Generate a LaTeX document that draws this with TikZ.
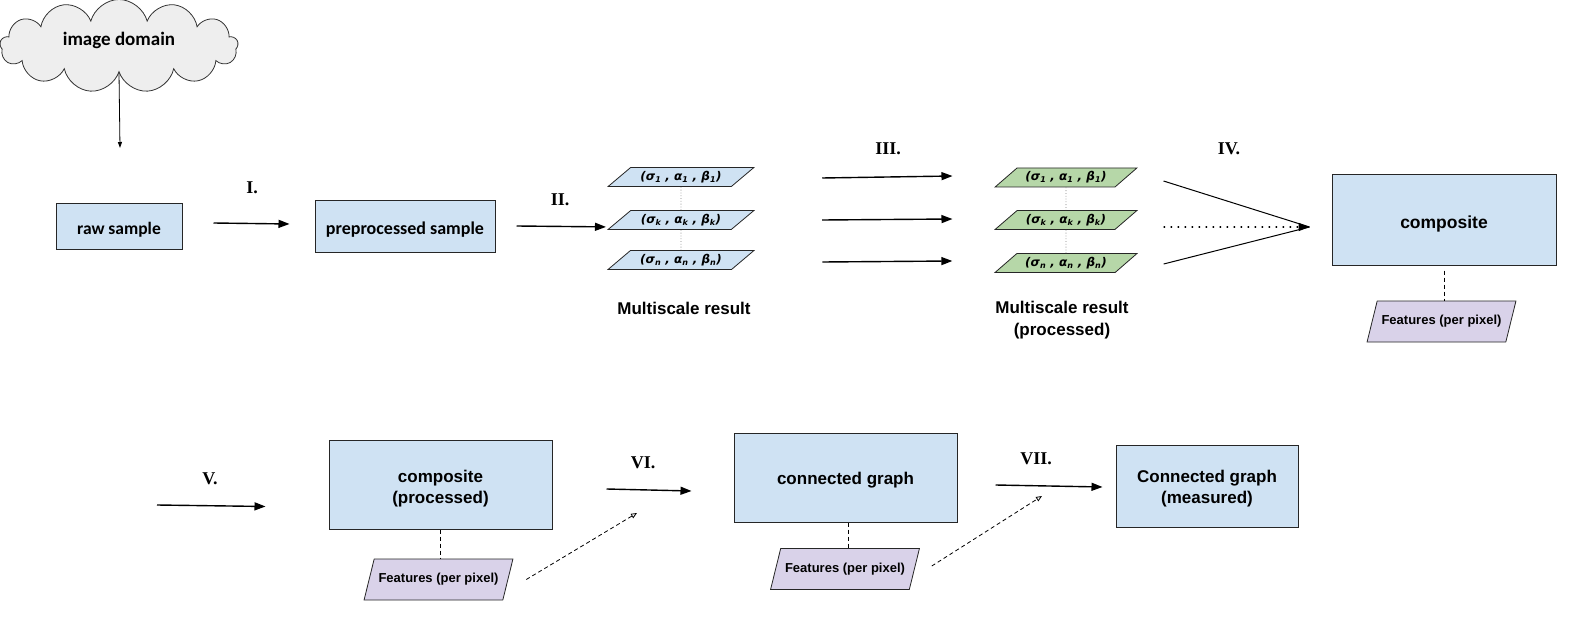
\documentclass[tikz,border=0pt]{standalone}
\usepackage{fontspec}
\setmainfont{Liberation Sans}
\newfontfamily\calibrifont{Carlito}
\newfontfamily\timesfont{Liberation Serif}
\newfontfamily\greekfont{DejaVu Sans}
\usetikzlibrary{shapes.geometric,shapes.symbols,arrows.meta}
\definecolor{boxblue}{HTML}{CFE2F3}
\definecolor{boxgreen}{HTML}{B6D7A8}
\definecolor{boxlilac}{HTML}{D9D2E9}
\definecolor{cloudgray}{HTML}{EEEEEE}
\newcommand{\scaletriple}[1]{{\greekfont\bfseries\itshape
  (σ\textsubscript{#1} , α\textsubscript{#1} , β\textsubscript{#1})}}
\newcommand{\shiftedtext}[2]{\raisebox{#1}[\height][\depth]{%
  \begin{tabular}{@{}c@{}}#2\end{tabular}}}

\begin{document}
\begin{tikzpicture}[
  x=1pt, y=-1pt,
  box/.style={
    rectangle, draw=black!85, fill=boxblue, line width=1pt,
    align=center, inner sep=0pt
  },
  calbox/.style={box, font=\calibrifont\bfseries\fontsize{18}{21}\selectfont},
  arialbox/.style={box, font=\bfseries\fontsize{17}{21}\selectfont},
  scalebox/.style={
    trapezium, trapezium left angle=33, trapezium right angle=147,
    trapezium stretches=true, draw=black!85, line width=0.8pt,
    minimum width=146pt, minimum height=19pt, inner sep=0pt,
    font=\fontsize{12}{14}\selectfont
  },
  feature/.style={
    trapezium, trapezium left angle=53, trapezium right angle=127,
    trapezium stretches=true, draw=black!85, fill=boxlilac, line width=0.8pt,
    minimum width=149pt, minimum height=41pt, inner xsep=-2pt, inner ysep=0pt,
    font=\bfseries\fontsize{13}{15}\selectfont
  },
  step label/.style={font=\timesfont\bfseries\fontsize{18}{20}\selectfont},
  caption/.style={font=\bfseries\fontsize{17}{22}\selectfont, align=center},
  arrow/.style={-{Triangle[length=11pt,width=8pt]}, line width=1.4pt},
  link/.style={dashed, dash pattern=on 4pt off 3pt, line width=0.8pt},
  hint/.style={dashed, dash pattern=on 4pt off 3pt, line width=0.8pt,
    -{Triangle[open,length=6pt,width=5pt]}}
]
\useasboundingbox (0,0) rectangle (1569,631);

% Input
\node[cloud, cloud puffs=13, aspect=2.6, draw=black!80, fill=cloudgray,
  line width=0.8pt, minimum width=238pt, minimum height=93pt, inner sep=0pt,
  font=\calibrifont\bfseries\fontsize{19}{22}\selectfont] (domain) at (119,46)
  {\shiftedtext{5pt}{image domain}};
\coordinate (domainend) at (120,148);
\node[calbox, minimum width=126pt, minimum height=46pt,
  font=\calibrifont\bfseries\fontsize{17.5}{21}\selectfont] (raw) at (119,227)
  {\shiftedtext{-3pt}{raw sample}};
\node[calbox, minimum width=180pt, minimum height=52pt] (prep) at (405,227)
  {\shiftedtext{-3pt}{preprocessed sample}};

% Multiscale (raw)
\node[scalebox, fill=boxblue] (b1) at (681,177) {\scaletriple{1}};
\node[scalebox, fill=boxblue] (bk) at (681,220) {\scaletriple{k}};
\node[scalebox, fill=boxblue] (bn) at (681,260) {\scaletriple{n}};
\node[caption] (mres) at (684,308) {Multiscale result};

% Multiscale (processed)
\node[scalebox, fill=boxgreen, minimum width=142pt] (g1) at (1066,177.5) {\scaletriple{1}};
\node[scalebox, fill=boxgreen, minimum width=142pt] (gk) at (1066,220) {\scaletriple{k}};
\node[scalebox, fill=boxgreen, minimum width=142pt] (gn) at (1066,263) {\scaletriple{n}};
\node[caption] (mproc) at (1062,320) {Multiscale result\\(processed)};

% Composite
\node[arialbox, minimum width=224pt, minimum height=90pt,
  font=\bfseries\fontsize{17.5}{21}\selectfont] (comp) at (1444,220)
  {\shiftedtext{-4pt}{composite}};
\node[feature] (feat1) at (1441.5,321.5) {Features (per pixel)};

% Second row
\node[arialbox, minimum width=223pt, minimum height=89pt] (cproc) at (440.5,484.5)
  {\shiftedtext{-4pt}{composite\\(processed)}};
\node[feature] (feat2) at (438.5,579.5) {Features (per pixel)};
\node[arialbox, minimum width=223pt, minimum height=89pt] (graph) at (845.5,477.5)
  {\shiftedtext{-3pt}{connected graph}};
\node[feature] (feat3) at (845,569) {Features (per pixel)};
\node[arialbox, minimum width=182pt, minimum height=82pt] (meas) at (1207,486)
  {\shiftedtext{-3pt}{Connected graph\\(measured)}};

% Step labels
\node[step label] at (252,188) {I.};
\node[step label] at (560,200) {II.};
\node[step label] at (888,149) {III.};
\node[step label] at (1229,149) {IV.};
\node[step label] at (210,479) {V.};
\node[step label] at (643,463) {VI.};
\node[step label] at (1036,459) {VII.};

% Arrows
\draw[-{Triangle[length=6pt,width=4pt]}, line width=0.8pt] (domain.south) -- (domainend);
\draw[arrow] ([shift={(31,-4)}]raw.east) -- ([shift={(-25,-3)}]prep.west);
\draw[arrow] ([shift={(21,-1)}]prep.east) -- ([shift={(-1,-3)}]bk.bottom left corner);
\draw[gray, dotted, line width=0.8pt] (b1.south) -- (bk.north);
\draw[gray, dotted, line width=0.8pt] (bk.south) -- (bn.north);
\draw[gray, dotted, line width=0.8pt] (g1.south) -- (gk.north);
\draw[gray, dotted, line width=0.8pt] (gk.south) -- (gn.north);
\draw[arrow] ([shift={(79,1)}]b1.east) -- ([shift={(-53,-1.5)}]g1.west);
\draw[arrow] ([shift={(79,0)}]bk.east) -- ([shift={(-53,-1)}]gk.west);
\draw[arrow] ([shift={(79,2)}]bn.east) -- ([shift={(-53,-2)}]gn.west);
\coordinate (ivtip) at ([shift={(-22,7)}]comp.west);
\draw[line width=1pt] ([shift={(37,3.5)}]g1.east) -- (ivtip);
\draw[line width=1pt] ([shift={(37,1)}]gn.east) -- (ivtip);
\draw[dash pattern=on 1.6pt off 5.4pt, line width=1.6pt,
  -{Triangle[length=11pt,width=8pt]}] ([shift={(37,7)}]gk.east) -- (ivtip);
\draw[link] ([yshift=-5pt]comp.south) -- (comp.south |- feat1.north);
\coordinate (vstart) at (157,505);
\draw[arrow] (vstart) -- ([shift={(-63,22)}]cproc.west);
\draw[link] (cproc.south) -- (cproc.south |- feat2.north);
\coordinate (vitip) at (637,513);
\draw[hint] ([shift={(18,0)}]feat2.east) -- (vitip);
\draw[arrow] ([shift={(54,4.5)}]cproc.east) -- ([shift={(-42,13.5)}]graph.west);
\draw[link] ([xshift=2.5pt]graph.south) -- ([xshift=2.5pt]graph.south |- feat3.north);
\coordinate (viitip) at (1042,496);
\draw[hint] ([shift={(17,-3)}]feat3.east) -- (viitip);
\draw[arrow] ([shift={(38,7.5)}]graph.east) -- ([shift={(-13,1)}]meas.west);
\end{tikzpicture}
\end{document}
